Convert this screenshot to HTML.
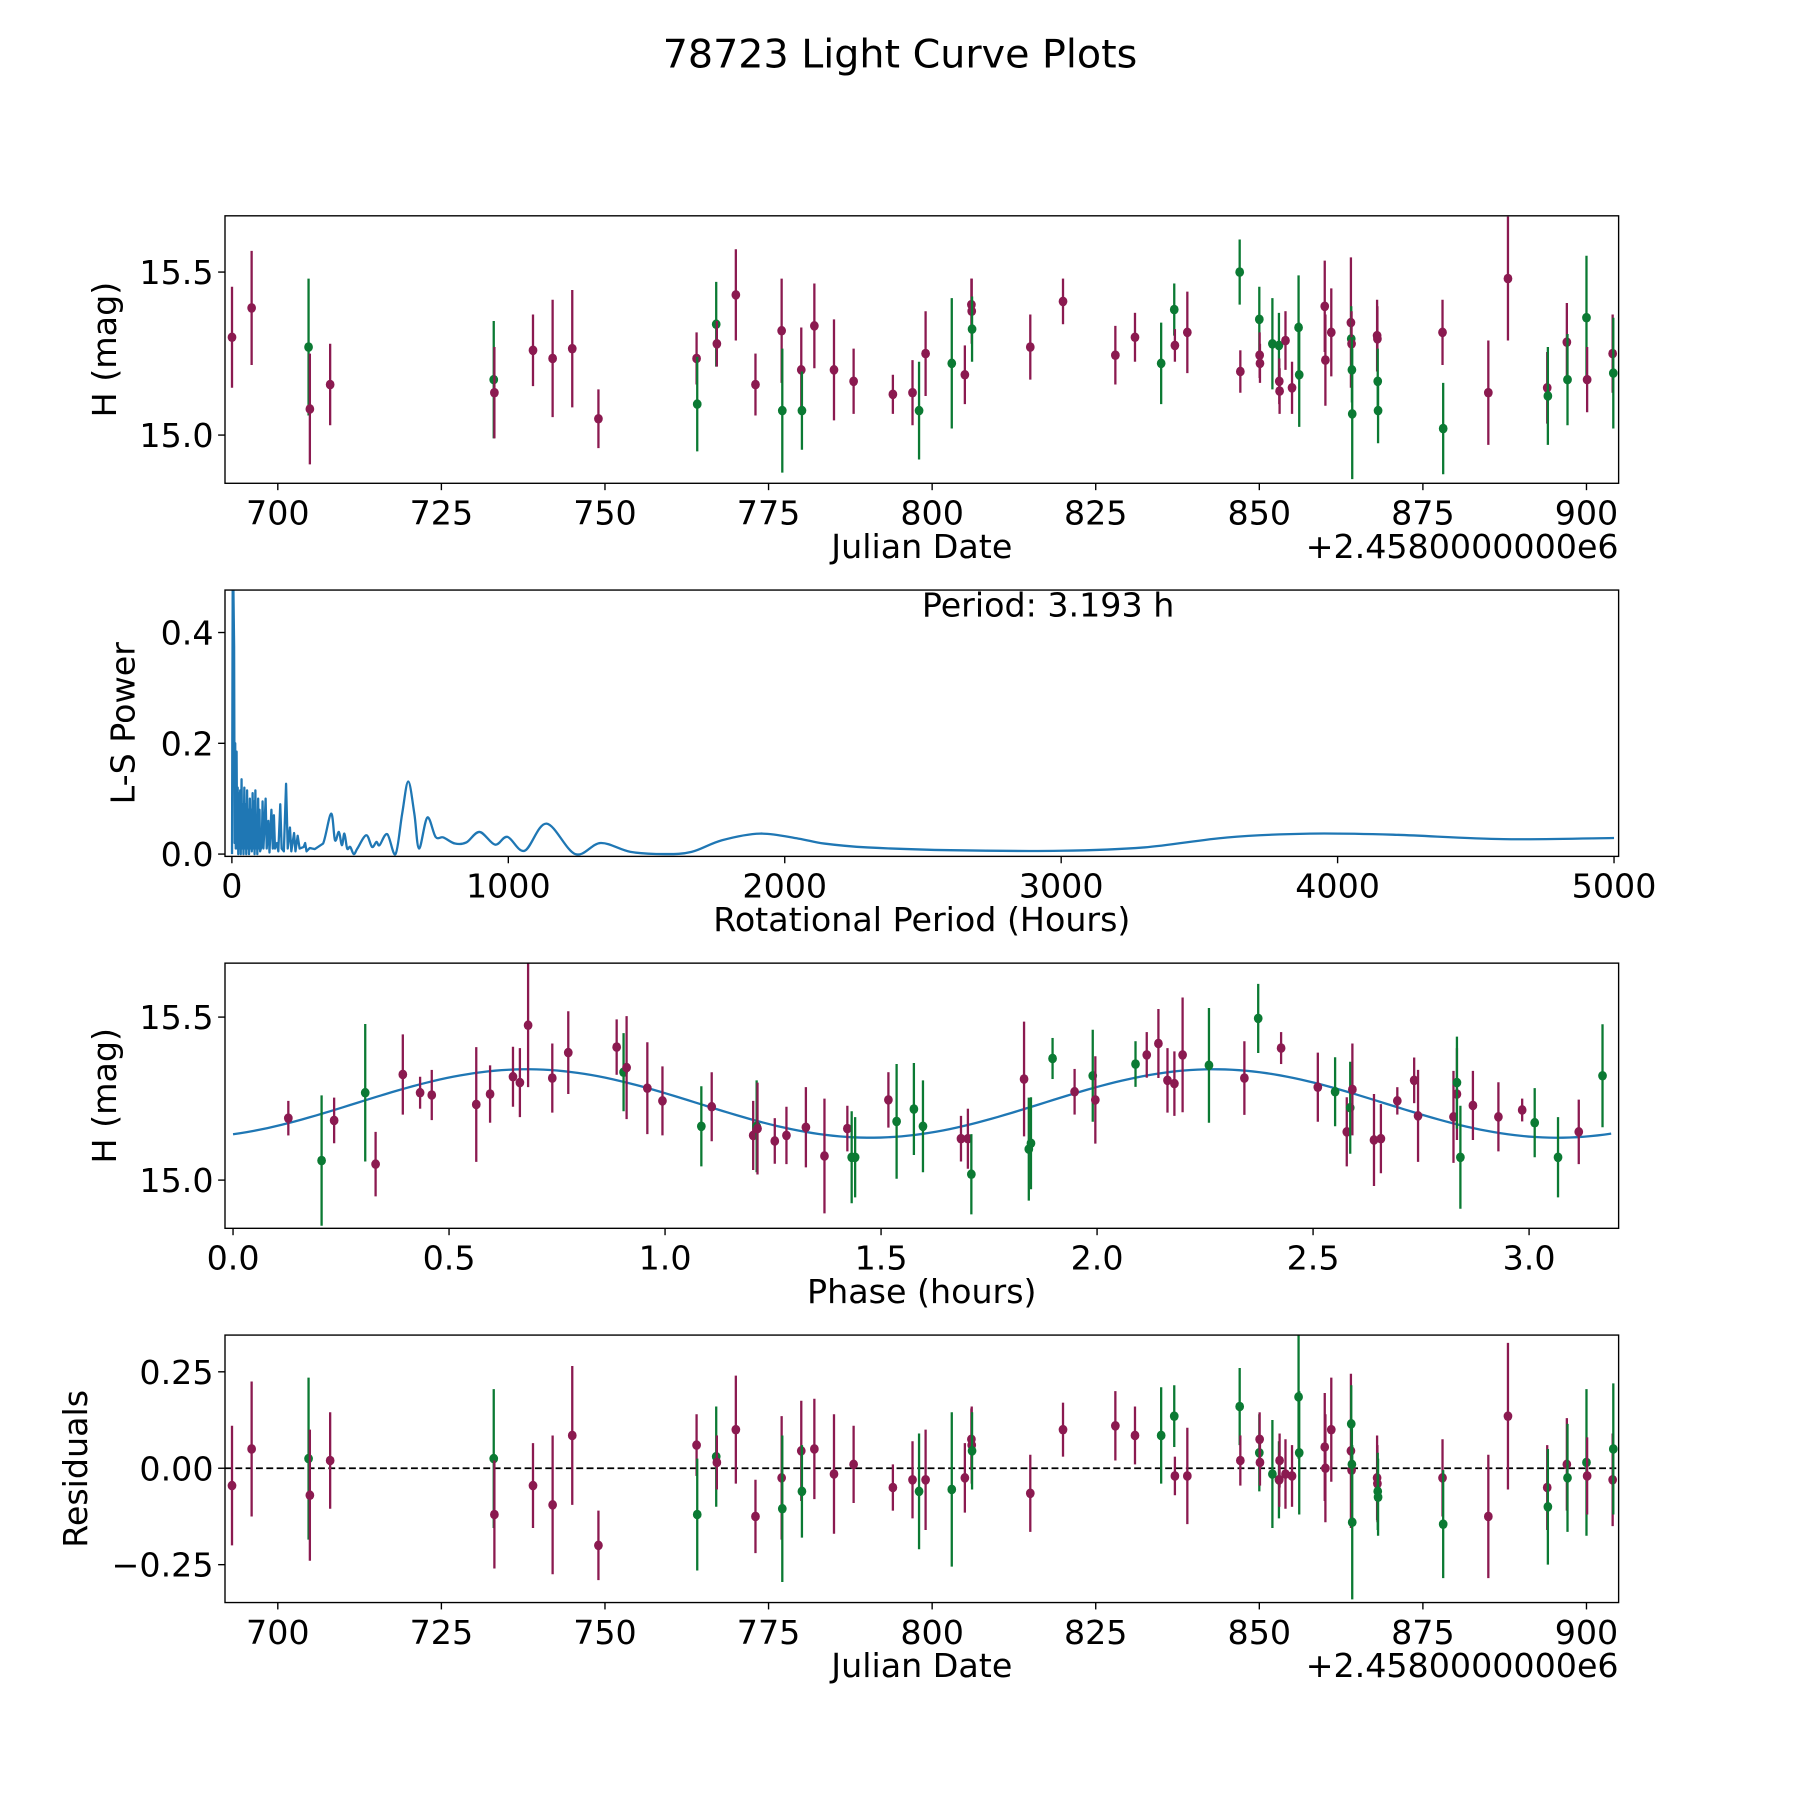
<!DOCTYPE html>
<html><head><meta charset="utf-8"><style>
html,body{margin:0;padding:0;background:#fff;}
svg{display:block;font-family:"DejaVu Sans","Liberation Sans",sans-serif;}
</style></head><body>
<svg id="fig" width="1800" height="1800" viewBox="0 0 1568 1568" xmlns="http://www.w3.org/2000/svg">
<rect width="1568" height="1568" fill="#fff"/>
<text x="784" y="59" font-size="34.5" text-anchor="middle">78723 Light Curve Plots</text>
</svg>
<script>
// ---- Light curve data (Julian Date offset from 2458000) ----
const dates = [693,696,704.7,704.9,708,733,733.1,739,742,745,749,764,764.1,767,767.1,770,773,777,777.1,780,780.1,782,785,788,794,797,798,799,803,805,806,806.05,806.1,815,820,828,831,835,837,837.1,839,847,847.1,850,850.05,850.1,852,853,853.05,853.1,854,855,856,856.1,860,860.1,861,864,864.05,864.1,864.15,864.2,868,868.05,868.1,868.15,878,878.1,885,888,894,894.1,897,897.1,900,900.1,904,904.1];
const mags = [15.30,15.39,15.27,15.08,15.155,15.17,15.13,15.26,15.235,15.265,15.05,15.235,15.095,15.34,15.28,15.43,15.155,15.32,15.075,15.2,15.075,15.335,15.2,15.165,15.125,15.13,15.075,15.25,15.22,15.185,15.40,15.38,15.325,15.27,15.41,15.245,15.30,15.22,15.385,15.275,15.315,15.50,15.195,15.355,15.245,15.22,15.28,15.275,15.165,15.135,15.29,15.145,15.33,15.185,15.395,15.23,15.315,15.345,15.295,15.28,15.2,15.065,15.305,15.295,15.165,15.075,15.315,15.02,15.13,15.48,15.145,15.12,15.285,15.17,15.36,15.17,15.25,15.19];
const magErrs = [0.155,0.175,0.21,0.17,0.125,0.18,0.14,0.11,0.18,0.18,0.09,0.08,0.145,0.13,0.07,0.14,0.095,0.16,0.19,0.13,0.12,0.13,0.155,0.1,0.06,0.1,0.15,0.13,0.2,0.09,0.08,0.1,0.1,0.1,0.07,0.09,0.075,0.125,0.08,0.05,0.125,0.1,0.065,0.1,0.07,0.06,0.14,0.1,0.07,0.07,0.09,0.08,0.16,0.16,0.14,0.14,0.135,0.2,0.1,0.1,0.1,0.2,0.11,0.1,0.1,0.1,0.1,0.14,0.16,0.19,0.11,0.15,0.12,0.14,0.19,0.1,0.12,0.17];
const bands = ["r","r","g","r","r","g","r","r","r","r","r","r","g","g","r","r","r","r","g","r","g","r","r","r","r","r","g","r","g","r","r","r","g","r","r","r","r","g","g","r","r","g","r","g","r","r","g","g","r","r","r","r","g","g","r","r","r","r","g","r","g","g","r","r","g","g","r","g","r","r","r","g","r","g","g","r","r","g"];
const residuals = [-0.045,0.05,0.025,-0.07,0.02,0.025,-0.12,-0.045,-0.095,0.085,-0.2,0.06,-0.12,0.03,0.015,0.1,-0.125,-0.025,-0.105,0.045,-0.06,0.05,-0.015,0.01,-0.05,-0.03,-0.06,-0.03,-0.055,-0.025,0.075,0.06,0.045,-0.065,0.1,0.11,0.085,0.085,0.135,-0.02,-0.02,0.16,0.02,0.04,0.075,0.015,-0.015,-0.03,-0.03,0.02,-0.015,-0.02,0.185,0.04,0.055,0.0,0.1,0.045,0.115,-0.005,0.01,-0.14,-0.025,-0.04,-0.06,-0.075,-0.025,-0.145,-0.125,0.135,-0.05,-0.1,0.01,-0.025,0.015,-0.02,-0.03,0.05];

// ---- Phase-folded data ----
const phases = [0.128,0.205,0.234,0.306,0.330,0.393,0.433,0.460,0.563,0.595,0.648,0.664,0.683,0.739,0.776,0.888,0.904,0.911,0.959,0.994,1.084,1.108,1.204,1.212,1.214,1.254,1.281,1.326,1.369,1.422,1.432,1.440,1.517,1.536,1.576,1.597,1.685,1.701,1.709,1.831,1.842,1.847,1.897,1.948,1.990,1.996,2.089,2.115,2.142,2.163,2.179,2.198,2.259,2.341,2.373,2.426,2.511,2.551,2.578,2.586,2.591,2.641,2.657,2.695,2.734,2.743,2.825,2.833,2.833,2.841,2.870,2.929,2.984,3.013,3.067,3.115,3.170];
const phaseMags = [15.190,15.060,15.183,15.268,15.049,15.324,15.268,15.261,15.232,15.264,15.317,15.299,15.475,15.313,15.391,15.408,15.331,15.345,15.282,15.243,15.165,15.225,15.137,15.165,15.158,15.120,15.137,15.162,15.074,15.158,15.070,15.070,15.246,15.180,15.218,15.165,15.127,15.127,15.018,15.310,15.095,15.113,15.373,15.271,15.320,15.246,15.356,15.384,15.419,15.306,15.296,15.384,15.352,15.313,15.496,15.405,15.285,15.271,15.148,15.222,15.278,15.123,15.127,15.243,15.306,15.197,15.194,15.264,15.299,15.070,15.229,15.194,15.215,15.176,15.070,15.148,15.320];
const phaseErrs = [0.053,0.2,0.07,0.211,0.099,0.123,0.049,0.077,0.176,0.088,0.092,0.106,0.19,0.106,0.127,0.085,0.12,0.158,0.141,0.106,0.123,0.106,0.106,0.141,0.141,0.07,0.088,0.123,0.176,0.07,0.141,0.123,0.085,0.176,0.141,0.141,0.07,0.092,0.123,0.176,0.158,0.141,0.063,0.07,0.141,0.134,0.07,0.07,0.106,0.099,0.099,0.176,0.176,0.113,0.106,0.049,0.106,0.106,0.106,0.141,0.141,0.141,0.106,0.042,0.07,0.141,0.141,0.141,0.141,0.158,0.106,0.106,0.035,0.106,0.123,0.099,0.158];
const phaseBands = ["r","g","r","g","r","r","r","r","r","r","r","r","r","r","r","r","g","r","r","r","g","r","r","g","r","r","r","r","r","r","g","g","r","g","g","g","r","r","g","r","g","g","g","r","g","r","g","r","r","r","r","r","g","r","g","r","r","g","r","g","r","r","r","r","r","r","r","r","g","g","r","r","r","g","g","r","g"];
// sinusoidal fit parameters: mean, amplitude, peak phase, fit period (hours)
const fitParams = [15.235, 0.105, 0.68, 1.59];

// ---- Lomb-Scargle periodogram ----
const lsPeriods = [0.5,3,5.5,8,10,12,14,17,19,21,23,25,27,30,32,35,37,40,42,45,47,50,52,55,57,60,62,65,67,70,72,75,77,80,82,85,87,90,92,95,97,100,102,108,111,114,118,122,126,132,136,143,148,152,156,163,168,175,180,188,196,202,210,215,225,230,238,245,260,265,270,282,290,300,330,359,373,387,398,407,417,428,441,454,486,507,523,534,562,592,616,638,660,677,707,737,765,807,848,896,952,997,1059,1138,1242,1334,1442,1566,1663,1773,1911,2049,2143,2300,2600,3000,3300,3600,3900,4200,4600,5000];
const lsPower = [0,0.5,0.48,0.375,0.02,0.2,0.01,0.185,0.01,0.12,0,0.11,0.01,0.115,0,0.135,0.01,0.09,0,0.12,0.01,0.09,0,0.115,0.01,0.08,0,0.1,0.01,0.08,0.005,0.11,0.01,0.095,0,0.115,0.01,0.07,0,0.1,0.01,0.08,0.005,0.015,0.095,0.01,0.05,0.1,0.01,0.06,0.003,0.08,0.01,0.07,0.01,0.02,0.005,0.09,0.01,0.005,0.127,0.01,0.048,0.005,0.038,0.005,0.033,0.01,0.013,0.02,0.005,0.011,0.01,0.009,0.019,0.073,0.025,0.040,0.016,0.037,0.010,0.013,0.0,0.010,0.034,0.013,0.022,0.016,0.036,0.0,0.073,0.131,0.073,0.010,0.066,0.031,0.030,0.019,0.021,0.040,0.017,0.031,0.006,0.055,0.0,0.020,0.004,0.0,0.004,0.025,0.037,0.028,0.019,0.012,0.007,0.006,0.012,0.03,0.037,0.035,0.027,0.029];
const smoothFrom = 330;

const jdTicks = [700,725,750,775,800,825,850,875,900];
const magTicks = [15.0,15.5];
const lsXTicks = [0,1000,2000,3000,4000,5000];
const lsYTicks = [0.0,0.2,0.4];
const phaseTicks = [0.0,0.5,1.0,1.5,2.0,2.5,3.0];
const resTicks = [-0.25,0.0,0.25];

const svg = document.getElementById('fig');
const NS = 'http://www.w3.org/2000/svg';
const COL = {r:'#8b1a50', g:'#0b7a33'};
const FS = 29;
function mk(tag, attrs, parent){const e=document.createElementNS(NS,tag);for(const k in attrs)e.setAttribute(k,attrs[k]);(parent||svg).appendChild(e);return e;}
function lin(d0,d1,p0,p1){return v=>p0+(v-d0)*(p1-p0)/(d1-d0);}

const L=196,R=1410;
const panels=[{t:188,b:421},{t:514,b:746},{t:839,b:1070},{t:1163,b:1396}];

function axes(p,name,xs,ys,xt,yt,xfmt,yfmt,xlabel,ylabel,ylx,offset){
  const g=mk('g',{});
  
  
  xt.forEach(v=>{const x=xs(v);
    const tk=mk('line',{x1:x,x2:x,y1:p.b,y2:p.b+6,stroke:'#000','stroke-width':1.2},g);
    
    const tl=mk('text',{x:x,y:p.b+36,'font-size':FS,'text-anchor':'middle'},g);tl.textContent=xfmt(v);
    });
  yt.forEach(v=>{const y=ys(v);
    const tk=mk('line',{x1:L-6,x2:L,y1:y,y2:y,stroke:'#000','stroke-width':1.2},g);
    
    const tl=mk('text',{x:L-10,y:y+10.5,'font-size':FS,'text-anchor':'end'},g);tl.textContent=yfmt(v);
    });
  const xl=mk('text',{x:(L+R)/2,y:p.b+65,'font-size':FS,'text-anchor':'middle'},g);xl.textContent=xlabel;
  
  const cy=(p.t+p.b)/2;
  const yl=mk('text',{x:ylx,y:cy,'font-size':FS,'text-anchor':'middle',transform:`rotate(-90 ${ylx} ${cy})`},g);yl.textContent=ylabel;
  
  if(offset){const o=mk('text',{x:R,y:p.b+65,'font-size':FS,'text-anchor':'end'},g);o.textContent=offset;
    }
  return g;
}
function frame(p,name){const r=mk('rect',{x:L,y:p.t,width:R-L,height:p.b-p.t,fill:'none',stroke:'#000','stroke-width':1.2});
  }
function clip(id,p){const c=mk('clipPath',{id:id});mk('rect',{x:L,y:p.t,width:R-L,height:p.b-p.t},c);}
function errPoints(gname,xsArr,ysArr,es,bs,xs,ys,clipId){
  const g=mk('g',{'clip-path':`url(#${clipId})`});
  
  xsArr.forEach((xv,i)=>{const x=xs(xv),y=ys(ysArr[i]);const c=COL[bs[i]];
    const ln=mk('line',{x1:x,x2:x,y1:ys(ysArr[i]+es[i]),y2:ys(ysArr[i]-es[i]),stroke:c,'stroke-width':2},g);
    
    const pt=mk('ellipse',{cx:x,cy:y,rx:3.8,ry:4.2,fill:c},g);
    });
}
const fmtInt=v=>String(v);
const fmt1=v=>v.toFixed(1);
const fmt2=v=>(v<0?'\u2212':'')+Math.abs(v).toFixed(2);

// Panel 1
const jdX=lin(700,900,242,1382);
const p1=panels[0];const m1Y=lin(15.0,15.5,379,237);
clip('c1',p1);
axes(p1,'light-curve-axes',jdX,m1Y,jdTicks,magTicks,fmtInt,fmt1,'Julian Date','H (mag)',101,'+2.4580000000e6');
errPoints('light-curve-points',dates,mags,magErrs,bands,jdX,m1Y,'c1');
frame(p1,'light-curve-frame');

// Panel 2
const p2=panels[1];const lsX=lin(0,5000,202,1406);const lsY=lin(0,0.4,744,551);
clip('c2',p2);
axes(p2,'periodogram-axes',lsX,lsY,lsXTicks,lsYTicks,fmtInt,fmt1,'Rotational Period (Hours)','L-S Power',117);
(function(){
  const pts=lsPeriods.map((v,i)=>[lsX(v),lsY(lsPower[i])]);
  let d='M'+pts[0][0].toFixed(2)+','+pts[0][1].toFixed(2);
  for(let i=1;i<pts.length;i++){
    if(lsPeriods[i]<=smoothFrom){d+=' L'+pts[i][0].toFixed(2)+','+pts[i][1].toFixed(2);}
    else{const p0=pts[i-2]||pts[i-1],p1=pts[i-1],p2=pts[i],p3=pts[i+1]||pts[i];
      const c1=[p1[0]+(p2[0]-p0[0])/6,p1[1]+(p2[1]-p0[1])/6],c2=[p2[0]-(p3[0]-p1[0])/6,p2[1]-(p3[1]-p1[1])/6];
      d+=` C${c1[0].toFixed(2)},${c1[1].toFixed(2)} ${c2[0].toFixed(2)},${c2[1].toFixed(2)} ${p2[0].toFixed(2)},${p2[1].toFixed(2)}`;}
  }
  const path=mk('path',{d:d,fill:'none',stroke:'#1f77b4','stroke-width':2,'stroke-linejoin':'round','clip-path':'url(#c2)'});
  
})();
const ann=mk('text',{x:913,y:537,'font-size':FS,'text-anchor':'middle'});ann.textContent='Period: 3.193 h';

frame(p2,'periodogram-frame');

// Panel 3
const p3=panels[2];const phX=lin(0,3,203,1332);const m3Y=lin(15.0,15.5,1028,886);
clip('c3',p3);
axes(p3,'phase-axes',phX,m3Y,phaseTicks,magTicks,fmt1,fmt1,'Phase (hours)','H (mag)',101);
(function(){
  let d='';
  for(let i=0;i<=200;i++){const ph=3.19*i/200;
    const m=fitParams[0]+fitParams[1]*Math.cos(2*Math.PI*(ph-fitParams[2])/fitParams[3]);
    d+=(i?' L':'M')+phX(ph).toFixed(2)+','+m3Y(m).toFixed(2);}
  const path=mk('path',{d:d,fill:'none',stroke:'#1f77b4','stroke-width':2,'clip-path':'url(#c3)'});
  
})();
errPoints('phase-points',phases,phaseMags,phaseErrs,phaseBands,phX,m3Y,'c3');
frame(p3,'phase-frame');

// Panel 4
const p4=panels[3];const rY=lin(-0.25,0.25,1363,1195);
clip('c4',p4);
axes(p4,'residuals-axes',jdX,rY,jdTicks,resTicks,fmtInt,fmt2,'Julian Date','Residuals',76,'+2.4580000000e6');
const zl=mk('line',{x1:L,x2:R,y1:rY(0),y2:rY(0),stroke:'#000','stroke-width':1.5,'stroke-dasharray':'6,3'});

errPoints('residual-points',dates,residuals,magErrs,bands,jdX,rY,'c4');
frame(p4,'residuals-frame');
</script>
</body></html>
